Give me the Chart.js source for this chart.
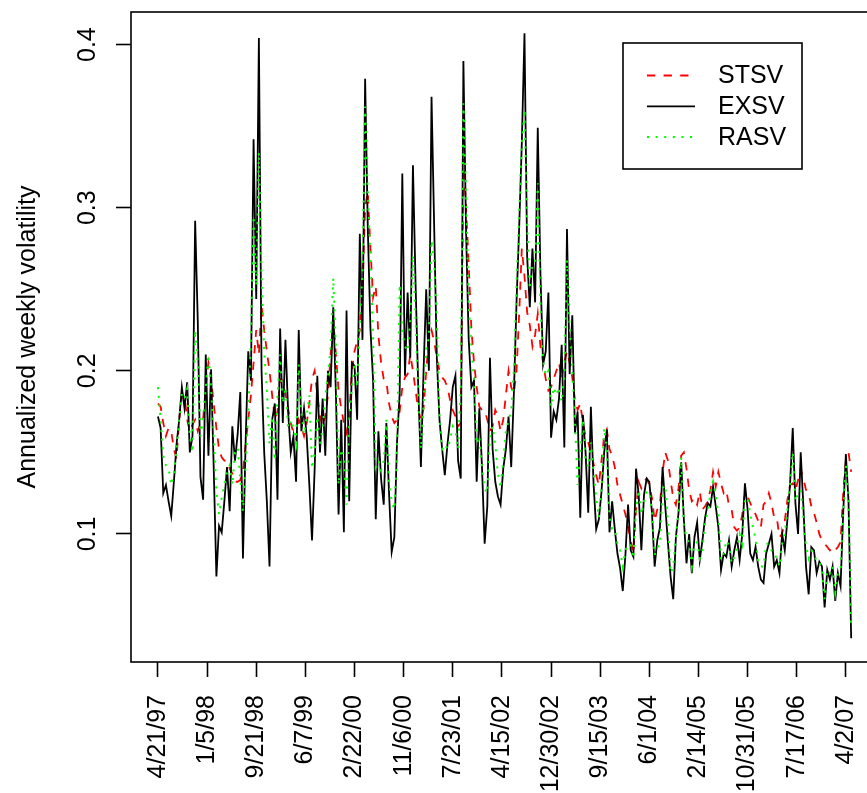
<!DOCTYPE html>
<html>
<head>
<meta charset="utf-8">
<script src="https://cdn.jsdelivr.net/npm/chart.js@4.4.1/dist/chart.umd.min.js"></script>
<style>
  html, body { margin: 0; padding: 0; background: #fff; overflow: hidden; }
  canvas { display: block; }
</style>
</head>
<body>
<canvas id="volChart" width="880" height="793"></canvas>
<script>
// weekly volatility, one value every 2 weeks starting 4/21/97
const weekStep = 2;

const stsv = [
  0.18, 0.178, 0.168, 0.16, 0.165, 0.163, 0.152, 0.146, 0.17, 0.185,
  0.185, 0.17, 0.163, 0.167, 0.17, 0.163, 0.168, 0.17, 0.19, 0.205,
  0.195, 0.18, 0.165, 0.152, 0.147, 0.145, 0.145, 0.14, 0.137, 0.132,
  0.132, 0.133, 0.138, 0.155, 0.17, 0.185, 0.205, 0.225, 0.21, 0.24,
  0.225, 0.212, 0.2, 0.185, 0.17, 0.175, 0.195, 0.194, 0.186, 0.177,
  0.168, 0.162, 0.158, 0.17, 0.166, 0.16, 0.168, 0.18, 0.195, 0.2,
  0.185, 0.172, 0.166, 0.172, 0.185, 0.21, 0.232, 0.21, 0.188, 0.177,
  0.168, 0.162, 0.172, 0.2, 0.212, 0.218, 0.225, 0.25, 0.3, 0.31,
  0.275, 0.245, 0.252, 0.222, 0.205, 0.195, 0.194, 0.18, 0.172, 0.168,
  0.17, 0.175, 0.19, 0.196, 0.198, 0.21, 0.2, 0.188, 0.176, 0.17,
  0.177, 0.2, 0.22, 0.225, 0.218, 0.208, 0.2, 0.196, 0.194, 0.19,
  0.182, 0.176, 0.172, 0.166, 0.168, 0.33, 0.3, 0.265, 0.226, 0.205,
  0.19, 0.178, 0.176, 0.176, 0.17, 0.163, 0.166, 0.176, 0.172, 0.163,
  0.17, 0.185, 0.2, 0.19, 0.186, 0.2, 0.235, 0.275, 0.258, 0.236,
  0.228, 0.215, 0.222, 0.235, 0.215, 0.205, 0.195, 0.188, 0.19, 0.195,
  0.2, 0.205, 0.195, 0.205, 0.212, 0.205, 0.196, 0.182, 0.176, 0.18,
  0.168, 0.16, 0.156, 0.15, 0.143, 0.136, 0.13, 0.145, 0.16, 0.164,
  0.152, 0.148, 0.141, 0.13, 0.124, 0.118, 0.112, 0.104, 0.096, 0.088,
  0.115, 0.132, 0.128, 0.132, 0.134, 0.13, 0.122, 0.108, 0.115, 0.118,
  0.138, 0.15, 0.145, 0.133, 0.122, 0.118, 0.128, 0.148, 0.15, 0.14,
  0.127, 0.12, 0.122, 0.118, 0.126, 0.115, 0.117, 0.12, 0.127, 0.138,
  0.129, 0.138, 0.131, 0.125, 0.127, 0.117, 0.115, 0.104, 0.102, 0.104,
  0.112, 0.125, 0.123, 0.119, 0.115, 0.112, 0.108, 0.104, 0.118, 0.12,
  0.125, 0.119, 0.11, 0.11, 0.098, 0.1, 0.108, 0.121, 0.13, 0.131,
  0.127, 0.133, 0.14, 0.134, 0.127, 0.125, 0.117, 0.113, 0.107, 0.1,
  0.096, 0.094, 0.092, 0.09, 0.092, 0.09, 0.092, 0.095, 0.125, 0.145,
  0.15, 0.138
];

const exsv = [
  0.172, 0.165, 0.125, 0.13, 0.12, 0.111, 0.132, 0.155, 0.17, 0.19,
  0.177, 0.193, 0.15, 0.16, 0.292, 0.23, 0.135, 0.121, 0.21, 0.148,
  0.201, 0.14, 0.074, 0.105, 0.101, 0.12, 0.141, 0.114, 0.166, 0.145,
  0.161, 0.187, 0.085, 0.156, 0.212, 0.194, 0.342, 0.244, 0.404, 0.2,
  0.15, 0.12, 0.08, 0.17, 0.18, 0.121, 0.226, 0.168, 0.219, 0.175,
  0.15, 0.16, 0.132, 0.225, 0.163, 0.177, 0.16, 0.13, 0.096, 0.14,
  0.197, 0.15, 0.183, 0.148, 0.2, 0.19, 0.239, 0.186, 0.112, 0.17,
  0.101, 0.237, 0.12, 0.205, 0.203, 0.17, 0.284, 0.219, 0.379, 0.288,
  0.226, 0.194, 0.109, 0.163, 0.134, 0.118, 0.168, 0.125, 0.089, 0.098,
  0.156, 0.186, 0.321, 0.197, 0.248, 0.208, 0.326, 0.253, 0.19, 0.141,
  0.2, 0.25, 0.2, 0.368, 0.288, 0.208, 0.17, 0.152, 0.136, 0.155,
  0.17, 0.19, 0.197, 0.145, 0.134, 0.39, 0.286, 0.219, 0.19, 0.194,
  0.132, 0.177, 0.141, 0.094, 0.117, 0.208, 0.152, 0.132, 0.123, 0.118,
  0.14, 0.152, 0.172, 0.141, 0.186, 0.242, 0.288, 0.34, 0.407, 0.27,
  0.239, 0.275, 0.242, 0.349, 0.26, 0.204, 0.212, 0.248, 0.159, 0.175,
  0.17, 0.183, 0.216, 0.153, 0.287, 0.198, 0.234, 0.162, 0.175, 0.11,
  0.173, 0.15, 0.113, 0.178, 0.131, 0.103, 0.109, 0.126, 0.15, 0.164,
  0.101, 0.12, 0.103, 0.088, 0.079, 0.065, 0.087, 0.118, 0.09, 0.086,
  0.14, 0.124, 0.09, 0.124, 0.134, 0.132, 0.113, 0.08, 0.096, 0.104,
  0.141, 0.117, 0.095, 0.074, 0.06, 0.098, 0.113, 0.144, 0.109, 0.082,
  0.1, 0.076, 0.098, 0.107, 0.084, 0.096, 0.11, 0.119, 0.117, 0.129,
  0.117, 0.104, 0.078, 0.088, 0.086, 0.096, 0.08, 0.09, 0.098, 0.084,
  0.1, 0.131, 0.115, 0.088, 0.084, 0.092, 0.08, 0.072, 0.07, 0.088,
  0.094, 0.1, 0.08, 0.084, 0.076, 0.1, 0.09, 0.109, 0.131, 0.165,
  0.119, 0.1, 0.15, 0.117, 0.08, 0.063, 0.092, 0.09, 0.076, 0.083,
  0.08, 0.055, 0.078, 0.072, 0.08, 0.059, 0.076, 0.068, 0.113, 0.149,
  0.12, 0.036
];

const rasv = [
  0.19, 0.17, 0.148, 0.142, 0.14, 0.13, 0.137, 0.152, 0.17, 0.186,
  0.183, 0.189, 0.16, 0.15, 0.225, 0.205, 0.16, 0.17, 0.19, 0.21,
  0.19, 0.16, 0.126, 0.112, 0.122, 0.13, 0.138, 0.142, 0.13, 0.15,
  0.153, 0.134, 0.114, 0.141, 0.175, 0.22, 0.295, 0.252, 0.334, 0.26,
  0.212, 0.188, 0.155, 0.172, 0.145, 0.185, 0.21, 0.18, 0.19, 0.165,
  0.17, 0.165, 0.156, 0.204, 0.175, 0.161, 0.172, 0.185, 0.14, 0.15,
  0.172, 0.155, 0.165, 0.185, 0.197, 0.215, 0.257, 0.215, 0.13, 0.152,
  0.145, 0.118, 0.17, 0.19, 0.205, 0.19, 0.23, 0.26, 0.362, 0.31,
  0.27, 0.22, 0.141, 0.145, 0.139, 0.145, 0.17, 0.132, 0.12, 0.115,
  0.15, 0.253, 0.224, 0.215, 0.212, 0.231, 0.271, 0.231, 0.186, 0.152,
  0.178, 0.215, 0.22, 0.28, 0.266, 0.231, 0.17, 0.152, 0.155, 0.152,
  0.158, 0.166, 0.163, 0.152, 0.19, 0.364, 0.31, 0.24, 0.215, 0.194,
  0.155, 0.16, 0.14, 0.128, 0.125, 0.16, 0.166, 0.155, 0.137, 0.128,
  0.145, 0.163, 0.17, 0.175, 0.2, 0.253, 0.298, 0.34, 0.36, 0.29,
  0.25, 0.265, 0.266, 0.315, 0.24, 0.206, 0.197, 0.2, 0.178, 0.19,
  0.185, 0.19, 0.181, 0.198, 0.268, 0.228, 0.2, 0.17, 0.13, 0.15,
  0.17, 0.145, 0.141, 0.156, 0.138, 0.122, 0.11, 0.128, 0.165, 0.152,
  0.11, 0.103, 0.103, 0.094, 0.09, 0.08, 0.09, 0.094, 0.093, 0.085,
  0.115, 0.127, 0.112, 0.12, 0.126, 0.126, 0.114, 0.087, 0.092, 0.093,
  0.128, 0.13, 0.108, 0.076, 0.08, 0.098, 0.115, 0.147, 0.105, 0.098,
  0.094, 0.08, 0.094, 0.095, 0.085, 0.09, 0.108, 0.113, 0.125, 0.132,
  0.124, 0.112, 0.084, 0.088, 0.096, 0.093, 0.082, 0.086, 0.092, 0.1,
  0.094, 0.122, 0.122, 0.112, 0.104, 0.097, 0.082, 0.08, 0.08, 0.094,
  0.094, 0.09, 0.086, 0.086, 0.08, 0.094, 0.1, 0.115, 0.13, 0.15,
  0.12, 0.125, 0.127, 0.11, 0.092, 0.085, 0.09, 0.088, 0.083, 0.083,
  0.077, 0.06, 0.078, 0.076, 0.08, 0.064, 0.076, 0.078, 0.112, 0.142,
  0.12, 0.042
];

const tickWeeks = [0, 37, 74, 111, 148, 185, 222, 259, 296, 333, 370, 407, 444, 481, 518];
const tickLabels = ['4/21/97', '1/5/98', '9/21/98', '6/7/99', '2/22/00', '11/6/00', '7/23/01',
  '4/15/02', '12/30/02', '9/15/03', '6/1/04', '2/14/05', '10/31/05', '7/17/06', '4/2/07'];
const yTicks = [0.1, 0.2, 0.3, 0.4];
const yTickLabels = ['0.1', '0.2', '0.3', '0.4'];
const yTitle = 'Annualized weekly volatility';

const FONT = '"Liberation Sans", Arial, Helvetica, sans-serif';

function toPoints(vals) {
  return vals.map((v, i) => ({ x: i * weekStep, y: v }));
}

// box, rotated y labels, y title and the boxed legend (R style)
const rDecor = {
  id: 'rDecor',
  afterDraw(chart) {
    const { ctx, chartArea: a } = chart;
    const y = chart.scales.y;
    ctx.save();
    ctx.strokeStyle = '#000';
    ctx.lineWidth = 1.6;
    ctx.strokeRect(a.left, a.top, a.right - a.left, a.bottom - a.top);

    ctx.fillStyle = '#000';
    ctx.font = '25px ' + FONT;
    ctx.textAlign = 'center';
    ctx.textBaseline = 'alphabetic';
    yTicks.forEach((v, i) => {
      ctx.save();
      ctx.translate(95, y.getPixelForValue(v));
      ctx.rotate(-Math.PI / 2);
      ctx.fillText(yTickLabels[i], 0, 0);
      ctx.restore();
    });

    ctx.save();
    ctx.translate(35, (a.top + a.bottom) / 2);
    ctx.rotate(-Math.PI / 2);
    ctx.fillText(yTitle, 0, 0);
    ctx.restore();

    // legend
    const lx = 623, ly = 43, lw = 179, lh = 126;
    ctx.fillStyle = '#fff';
    ctx.fillRect(lx, ly, lw, lh);
    ctx.strokeStyle = '#000';
    ctx.lineWidth = 1.6;
    ctx.strokeRect(lx, ly, lw, lh);
    ctx.textAlign = 'left';
    ctx.textBaseline = 'middle';
    chart.data.datasets.forEach((ds, i) => {
      const ry = 75.5 + i * 30.8;
      ctx.beginPath();
      ctx.strokeStyle = ds.borderColor;
      ctx.lineWidth = ds.borderWidth;
      ctx.setLineDash(ds.borderDash || []);
      ctx.moveTo(647, ry);
      ctx.lineTo(695, ry);
      ctx.stroke();
      ctx.setLineDash([]);
      ctx.fillStyle = '#000';
      ctx.fillText(ds.label, 718, ry + 1);
    });
    ctx.restore();
  }
};

const ctx = document.getElementById('volChart').getContext('2d');
new Chart(ctx, {
  type: 'line',
  data: {
    datasets: [
      { label: 'STSV', data: toPoints(stsv), borderColor: '#ff0000', borderWidth: 1.8,
        borderDash: [8.3, 8.3], pointRadius: 0, tension: 0, fill: false, order: 3 },
      { label: 'EXSV', data: toPoints(exsv), borderColor: '#000000', borderWidth: 1.8,
        pointRadius: 0, tension: 0, fill: false, order: 2 },
      { label: 'RASV', data: toPoints(rasv), borderColor: '#00ff00', borderWidth: 2,
        borderDash: [2.1, 6.5], pointRadius: 0, tension: 0, fill: false, order: 1 }
    ]
  },
  options: {
    responsive: false,
    animation: false,
    devicePixelRatio: 1,
    layout: { padding: { top: 12, right: 2, left: 0, bottom: 0 } },
    plugins: { legend: { display: false }, tooltip: { enabled: false } },
    scales: {
      x: {
        type: 'linear',
        min: -20.3,
        max: 542.2,
        afterBuildTicks: s => { s.ticks = tickWeeks.map(v => ({ value: v })); },
        afterFit: s => { s.height = 131; s.paddingLeft = 0; s.paddingRight = 0; },
        border: { display: false },
        grid: { drawOnChartArea: false, drawTicks: true, tickLength: 15, tickColor: '#000', tickWidth: 1.6 },
        ticks: {
          autoSkip: false, minRotation: 90, maxRotation: 90, padding: 18, color: '#000',
          font: { family: FONT, size: 25 },
          callback: (v, i) => tickLabels[i]
        }
      },
      y: {
        min: 0.0215,
        max: 0.42,
        afterBuildTicks: s => { s.ticks = yTicks.map(v => ({ value: v })); },
        afterFit: s => { s.width = 131; s.paddingTop = 0; s.paddingBottom = 0; },
        border: { display: false },
        grid: { drawOnChartArea: false, drawTicks: true, tickLength: 15, tickColor: '#000', tickWidth: 1.6 },
        ticks: { color: 'rgba(0,0,0,0)', font: { family: FONT, size: 1 } }
      }
    }
  },
  plugins: [rDecor]
});
</script>
</body>
</html>
